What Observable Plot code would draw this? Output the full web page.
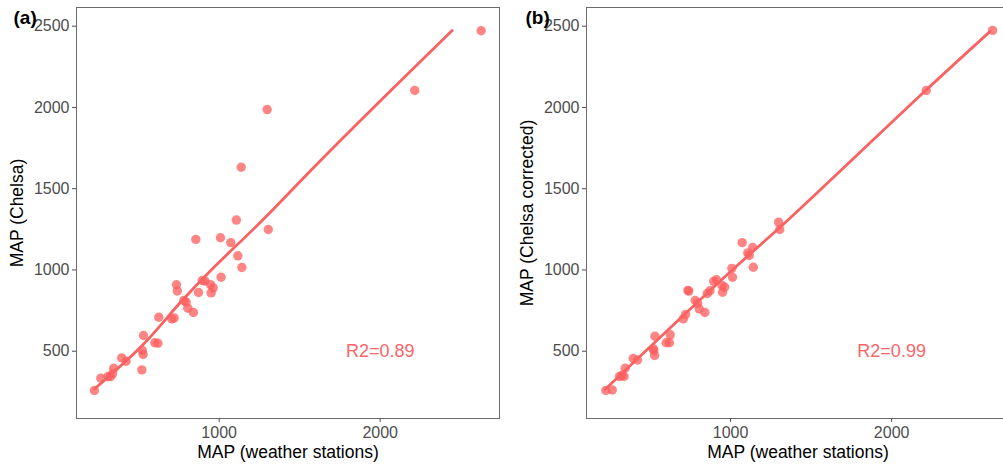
<!DOCTYPE html>
<html>
<head>
<meta charset="utf-8">
<script src="https://cdn.jsdelivr.net/npm/d3@7"></script>
<script src="https://cdn.jsdelivr.net/npm/@observablehq/plot@0.6"></script>
<style>
  html, body { margin: 0; padding: 0; background: white; overflow: hidden; }
  #wrap { position: relative; width: 1003px; height: 469px; overflow: hidden; }
  #wrap > svg { position: absolute; top: 0; }
</style>
</head>
<body>
<div id="wrap"></div>
<script>
// ---- data ----
const stationMAP = [225,265,310,325,338,345,395,422,520,523,528,530,600,620,625,706,720,735,740,780,795,805,840,855,872,895,912,946,950,963,1008,1012,1072,1107,1116,1137,1141,1298,1305,2215,2627];
const chelsaMAP = [258,334,344,344,361,395,459,438,385,504,480,597,552,549,709,699,705,909,871,812,802,765,738,1188,861,935,931,910,859,890,1198,955,1168,1307,1087,1632,1015,1987,1249,2104,2472];
const chelsaCorrectedMAP = [258,262,344,352,345,395,455,446,515,505,474,592,552,552,601,699,726,874,870,812,795,761,738,855,872,930,940,905,863,894,1010,955,1168,1105,1089,1138,1017,1294,1249,2104,2474];

// smoothed fit curves
const fitAX = [227, 522, 770, 946, 1267, 1619, 2000, 2447];
const fitAY = [269, 535, 812, 995, 1304, 1663, 2040, 2474];
const fitBX = [222, 1000, 1353, 2211, 2612];
const fitBY = [266, 990, 1304, 2104, 2468];

const xTicks = [1000, 2000];
const yTicks = [500, 1000, 1500, 2000, 2500];
const r2Labels = ["R2=0.89", "R2=0.99"];
const panelTags = ["(a)", "(b)"];
const xTitle = "MAP (weather stations)";
const yTitles = ["MAP (Chelsa)", "MAP (Chelsa corrected)"];
const r2Pos = {x: 2000, y: 500};

const pointColor = "#ff5c5c";
const lineColor = "#f96262";
const textColor = "#f8666a";
const font = "'Liberation Sans', Arial, sans-serif";

function panel({yValues, fitX, fitY, xDomain, width, marginLeft, tag, yTitle, r2, tagDx}) {
  const pts = stationMAP.map((x, i) => ({x, y: yValues[i]}));
  const fit = fitX.map((x, i) => ({x, y: fitY[i]}));
  return Plot.plot({
    width, height: 469,
    marginLeft, marginRight: 1, marginTop: 7, marginBottom: 51,
    style: {fontFamily: font, background: "white", overflow: "visible"},
    x: {domain: xDomain},
    y: {domain: [86, 2615]},
    marks: [
      Plot.frame({stroke: "#6b6b6b", strokeWidth: 1}),
      Plot.axisX({ticks: xTicks, tickSize: 4, tickPadding: 4, fontSize: 16, color: "#4d4d4d", label: null, tickFormat: d => String(d)}),
      Plot.axisY({ticks: yTicks, tickSize: 4, tickPadding: 3, fontSize: 16, color: "#4d4d4d", label: null, tickFormat: d => String(d)}),
      Plot.dot(pts, {x: "x", y: "y", r: 4.7, fill: pointColor, fillOpacity: 0.75, stroke: "none"}),
      Plot.line(fit, {x: "x", y: "y", stroke: lineColor, strokeWidth: 2.8, curve: "catmull-rom"}),
      Plot.text([r2], {x: () => r2Pos.x, y: () => r2Pos.y, text: d => d, fill: textColor, fontSize: 18, textAnchor: "middle"}),
      Plot.text([xTitle], {frameAnchor: "bottom", dy: 39, text: d => d, fontSize: 17.5, fill: "black", textAnchor: "middle"}),
      Plot.text([yTitle], {frameAnchor: "left", dx: -59, rotate: -90, text: d => d, fontSize: 17.5, fill: "black", textAnchor: "middle", lineAnchor: "middle"}),
      Plot.text([tag], {frameAnchor: "top-left", dx: tagDx, dy: 10, text: d => d, fontSize: 19, fontWeight: "bold", fill: "black", textAnchor: "start", lineAnchor: "middle"})
    ]
  });
}

const wrap = document.getElementById("wrap");
const a = panel({yValues: chelsaMAP, fitX: fitAX, fitY: fitAY, xDomain: [114, 2741], width: 500, marginLeft: 76, tag: panelTags[0], yTitle: yTitles[0], r2: r2Labels[0], tagDx: -63});
a.style.left = "0px";
wrap.appendChild(a);
const b = panel({yValues: chelsaCorrectedMAP, fitX: fitBX, fitY: fitBY, xDomain: [105, 2732], width: 510, marginLeft: 86, tag: panelTags[1], yTitle: yTitles[1], r2: r2Labels[1], tagDx: -61});
b.style.left = "500px";
wrap.appendChild(b);
</script>
</body>
</html>
